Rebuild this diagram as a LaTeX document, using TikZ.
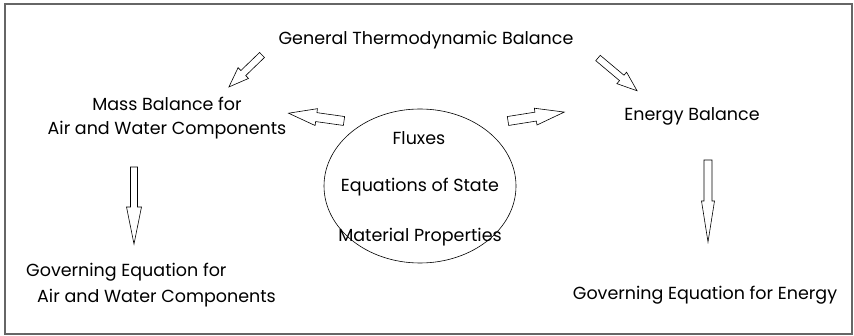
\documentclass[tikz,border=0pt]{standalone}
\usepackage{fontspec}
\setmainfont{Poppins}
\usetikzlibrary{calc,shapes.geometric}
\newcommand\blockarrow[6]{% tail, angle, length, shaft width, head width, head length
  \begin{scope}[shift={#1},rotate=#2]
    \draw[arrowline] (0pt,-#4/2) -- ({#3-#6},-#4/2) -- ({#3-#6},-#5/2) -- (#3,0pt)
      -- ({#3-#6},#5/2) -- ({#3-#6},#4/2) -- (0pt,#4/2) -- cycle;
  \end{scope}}
\begin{document}
\begin{tikzpicture}[x=1pt,y=-1pt,
  txt/.style={font=\fontsize{17.5}{20}\selectfont, inner sep=0pt, anchor=center},
  arrowline/.style={draw=black, fill=white, line width=0.6pt, line join=miter},
  frame/.style={draw=black!60, line width=1.6pt}]
  \useasboundingbox (0,0) rectangle (854,336);
  \node[frame, minimum width=847pt, minimum height=330pt, anchor=north west, inner sep=0pt] (fr) at (4,3) {};
  \node[txt] (gtb) at (426,40) {General Thermodynamic Balance};
  \node[txt] (mb1) at (167,104) {Mass Balance for};
  \node[txt] (mb2) at (167,130) {Air and Water Components};
  \node[txt] (eb) at (692,116) {Energy Balance};
  \node[draw, ellipse, minimum width=192pt, minimum height=154pt, line width=0.6pt] (ell) at (420,186) {};
  \node[txt] (fl) at (419,138) {Fluxes};
  \node[txt] (es) at (420,187) {Equations of State};
  \node[txt] (mp) at (420,237) {Material Properties};
  \node[txt, anchor=west] (ge1) at (26,272) {Governing Equation for};
  \node[txt, anchor=west] (ge2) at (37,298) {Air and Water Components};
  \node[txt] (gee) at (705,295) {Governing Equation for Energy};
  \blockarrow{(262,55)}{224}{46pt}{7pt}{15pt}{20pt}
  \blockarrow{(598,58)}{-40}{51pt}{7pt}{15pt}{20pt}
  \blockarrow{(344,121)}{172}{56pt}{9pt}{17pt}{28pt}
  \blockarrow{(508,121)}{9}{57pt}{9pt}{17pt}{29pt}
  \blockarrow{(134,167)}{-90}{77pt}{7pt}{15pt}{37pt}
  \blockarrow{(708,160)}{-90}{82pt}{8pt}{13pt}{41pt}
\end{tikzpicture}
\end{document}
